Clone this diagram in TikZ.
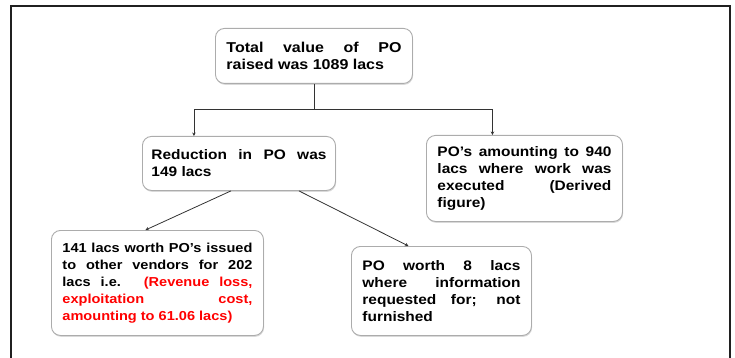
\documentclass[tikz,border=0pt]{standalone}
\usepackage{fontspec}
\setmainfont{Liberation Sans}[FakeStretch=1.12]
\usetikzlibrary{arrows.meta}
\usetikzlibrary{shadows}

\tikzset{
  box/.style={draw=gray!65, line width=0.9pt, rounded corners=9pt, fill=white,
    anchor=north west, align=justify, inner xsep=11pt, inner ysep=3pt,
    font=\bfseries\fontsize{13.8}{17}\selectfont,
    drop shadow={shadow xshift=0.6pt, shadow yshift=-1.4pt, opacity=0.3}},
  link/.style={draw=gray!40!black, line width=0.8pt},
  tip/.style={link, -{Stealth[length=3.5pt,width=3.5pt]}},
}

\begin{document}
\begin{tikzpicture}[x=1pt,y=-1pt]
\useasboundingbox (0,0) rectangle (735,358);
\draw[line width=1.8pt, gray!25!black] (11,358) -- (11,6) -- (730,6) -- (730,358);

\node[box, text width=175pt, minimum width=197pt, minimum height=55pt,
  font=\bfseries\fontsize{14.3}{17}\selectfont] (total) at (215,28)
  {Total value of PO\linebreak raised was 1089 lacs};
\node[box, text width=175pt, minimum width=193pt, minimum height=54pt, inner xsep=9pt] (reduction) at (142,136)
  {Reduction in PO was\linebreak 149 lacs};
\node[box, text width=174pt, minimum width=196pt, minimum height=86pt] (executed) at (426,135)
  {PO's amounting to 940\linebreak lacs where work was\linebreak executed (Derived\linebreak figure)};
\node[box, text width=190pt, minimum width=212pt, minimum height=105pt,
  font=\bfseries\fontsize{13}{17}\selectfont] (vendors) at (51,230)
  {141 lacs worth PO's issued\linebreak to other vendors for 202\linebreak lacs i.e. \textcolor{red}{(Revenue loss,\linebreak exploitation cost,\linebreak amounting to 61.06 lacs)}};
\node[box, text width=158pt, minimum width=180pt, minimum height=89pt] (info) at (351,246)
  {PO worth 8 lacs\linebreak where information\linebreak requested for; not\linebreak furnished};

\draw[link] (total.south) -- ++(0,26) coordinate (split);
\draw[tip] (split) -| ([xshift=-45pt]reduction.north);
\draw[tip] (split) -| ([xshift=-32pt]executed.north);
\draw[tip] ([xshift=-8pt]reduction.south) -- ([xshift=-12pt]vendors.north);
\draw[tip] ([xshift=60pt]reduction.south) -- ([xshift=-33pt]info.north);
\end{tikzpicture}
\end{document}
